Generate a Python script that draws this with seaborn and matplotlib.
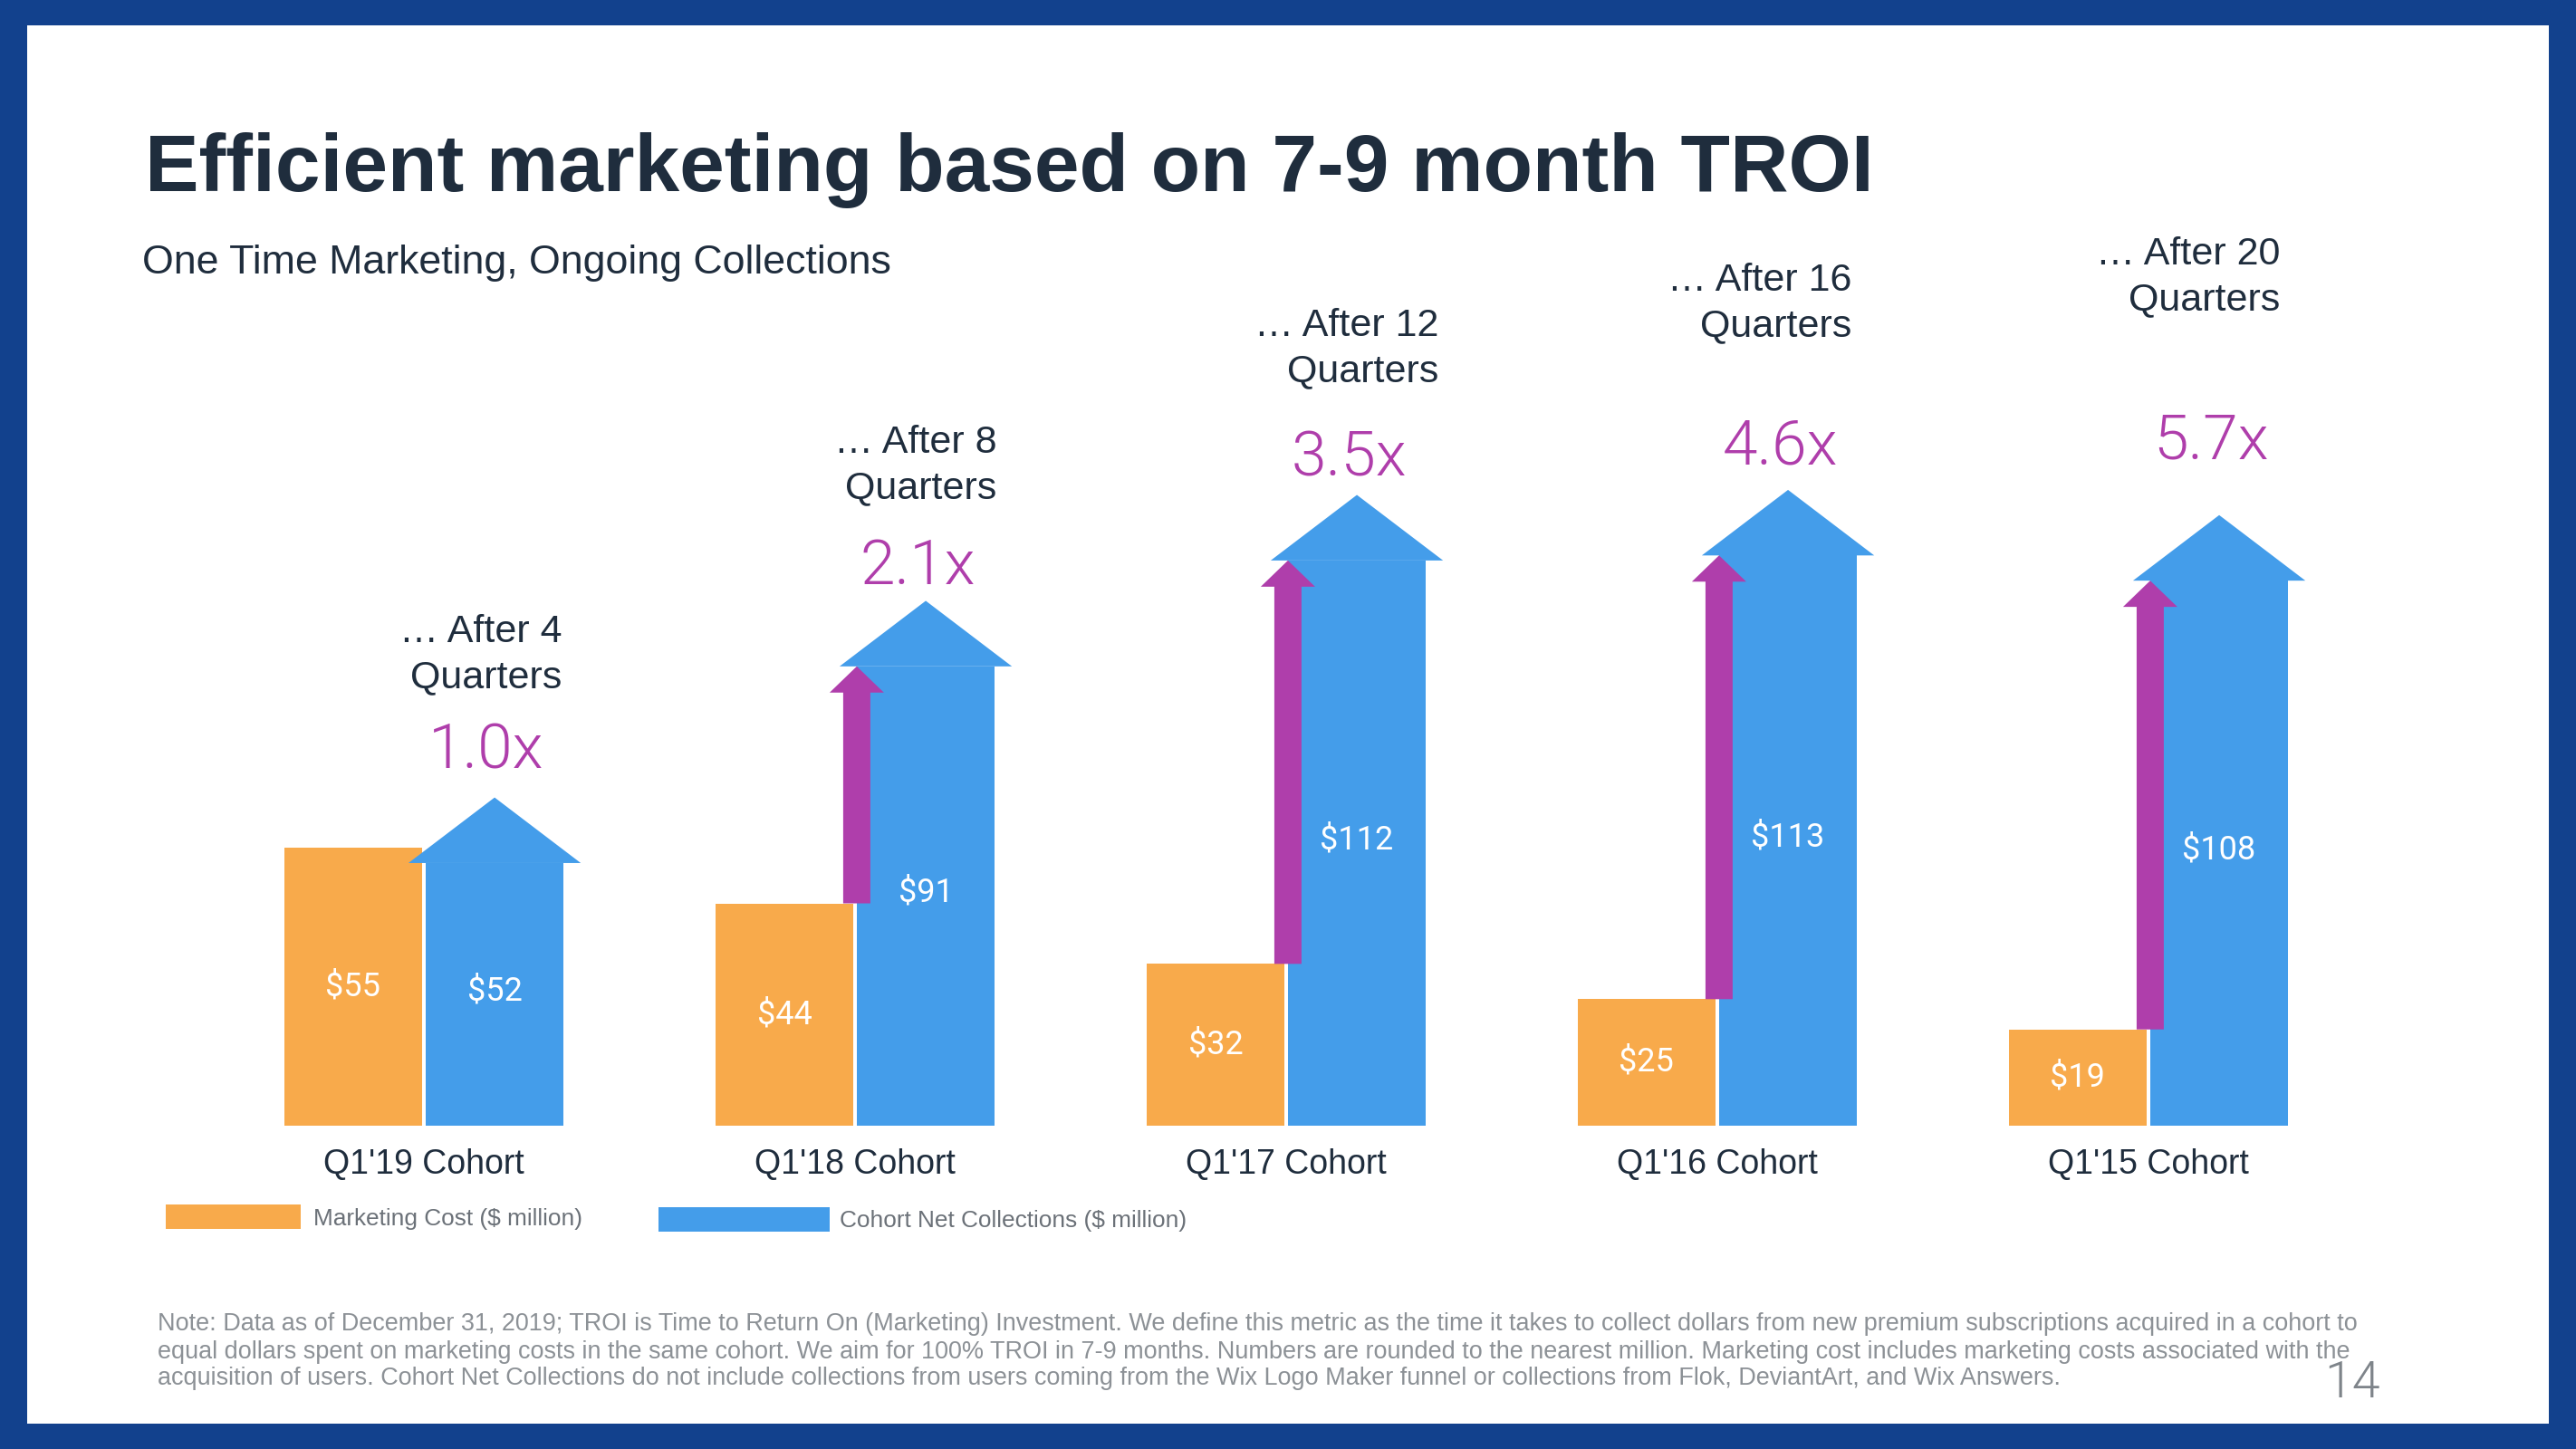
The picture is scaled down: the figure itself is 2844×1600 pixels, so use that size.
import numpy as np
import pandas as pd
import matplotlib
matplotlib.use("Agg")
import matplotlib.pyplot as plt
import seaborn as sns
from matplotlib.patches import Polygon, Rectangle
from matplotlib import font_manager as fm

# ---------------- data ----------------
cohorts = ["Q1'19 Cohort", "Q1'18 Cohort", "Q1'17 Cohort", "Q1'16 Cohort", "Q1'15 Cohort"]
marketing_cost = [55, 44, 32, 25, 19]
net_collections = [52, 91, 112, 113, 108]
multipliers = ["1.0x", "2.1x", "3.5x", "4.6x", "5.7x"]
quarter_labels = ["… After 4\nQuarters", "… After 8\nQuarters", "… After 12\nQuarters",
                  "… After 16\nQuarters", "… After 20\nQuarters"]
series_names = ["Marketing Cost ($ million)", "Cohort Net Collections ($ million)"]
title = "Efficient marketing based on 7-9 month TROI"
subtitle = "One Time Marketing, Ongoing Collections"
footnote_lines = [
    "Note: Data as of December 31, 2019; TROI is Time to Return On (Marketing) Investment. We define this metric as the time it takes to collect dollars from new premium subscriptions acquired in a cohort to",
    "equal dollars spent on marketing costs in the same cohort. We aim for 100% TROI in 7-9 months. Numbers are rounded to the nearest million. Marketing cost includes marketing costs associated with the",
    "acquisition of users. Cohort Net Collections do not include collections from users coming from the Wix Logo Maker funnel or collections from Flok, DeviantArt, and Wix Answers.",
]
page_number = "14"

# ---------------- layout / style ----------------
mult_y = [74.2, 110.7, 132.2, 134.5, 135.5]       # data-unit centres of multiplier labels
quarter_y = [93.3, 130.8, 153.9, 163.0, 168.2]    # data-unit centres of "After N Quarters"
quarter_right = [0.32, 0.328, 0.354, 0.312, 0.305]  # right edge offset from group centre
ORANGE = "#F8AA4B"
BLUE = "#449DEA"
PURPLE = "#AF3EAB"
NAVY = "#1F2D3D"
GREY = "#8C9196"
LEGEND_GREY = "#6B7178"
BORDER = "#12418D"

W, H = 2844, 1600
sns.set_style("white")
plt.rcParams["font.family"] = ["Liberation Sans", "DejaVu Sans"]

names = {f.name for f in fm.fontManager.ttflist}


def has_weight(name, w):
    for f in fm.fontManager.ttflist:
        if f.name == name:
            fw = f.weight
            if fw == w or str(fw) == str(w) or (w == 300 and str(fw).lower() == "light"):
                return True
    return False


LIGHT = "Liberation Sans"
LIGHT_W = "normal"
for cand in ["Roboto", "Lato", "Open Sans", "Inter", "Noto Sans"]:
    if has_weight(cand, 300):
        LIGHT, LIGHT_W = cand, 300
        break
NARROW = "Liberation Sans Narrow" if "Liberation Sans Narrow" in names else "Liberation Sans"
ROBOTO = "Roboto" if "Roboto" in names else "Liberation Sans"

fig = plt.figure(figsize=(W / 100, H / 100), dpi=100)
fig.patch.set_facecolor(BORDER)
fig.add_artist(Rectangle((30 / W, 28 / H), (2814 - 30) / W, (1572 - 28) / H,
                         transform=fig.transFigure, facecolor="white", edgecolor="none", zorder=-5))
renderer = fig.canvas.get_renderer()


def px(x, y):
    return x / W, 1 - y / H


def fit(txt, target):
    bb = txt.get_window_extent(renderer=renderer)
    txt.set_fontsize(txt.get_fontsize() * target / bb.width)


# ---------------- axes ----------------
unit = 476.0
c0 = 468.0
base = 1242.5
ppu = 5.568
xlim = (-0.7, 4.7)
ylim = (0, 200)
ax = fig.add_axes([(c0 + xlim[0] * unit) / W, (H - base) / H,
                   (xlim[1] - xlim[0]) * unit / W, ylim[1] * ppu / H])
ax.set_facecolor("none")

df = pd.DataFrame({
    "cohort": cohorts * 2,
    "value": marketing_cost + net_collections,
    "series": [series_names[0]] * len(cohorts) + [series_names[1]] * len(cohorts),
})
sns.barplot(data=df, x="cohort", y="value", hue="series", hue_order=series_names,
            palette=[ORANGE, BLUE], saturation=1, width=0.656, gap=0.025,
            ax=ax, legend=False, errorbar=None, edgecolor="none", linewidth=0)
ax.set_xlim(*xlim)
ax.set_ylim(*ylim)
for s in ax.spines.values():
    s.set_visible(False)
ax.set_yticks([])
ax.set_xlabel("")
ax.set_ylabel("")
ax.tick_params(axis="x", length=0, pad=18.5, labelsize=27, labelcolor=NAVY)

n = len(cohorts)
bars = ax.patches
orange_bars = bars[:n]
blue_bars = bars[n:2 * n]

head_h = 13.0
head_ext = 0.040
p_shaft = 0.063
p_head = 0.126
p_head_h = 5.2

for i in range(n):
    ob = orange_bars[i]
    bb = blue_bars[i]
    bx, bw, bh = bb.get_x(), bb.get_width(), bb.get_height()
    ox, ow, oh = ob.get_x(), ob.get_width(), ob.get_height()
    # blue arrow head
    ax.add_patch(Polygon([(bx - head_ext, bh), (bx + bw + head_ext, bh), (bx + bw / 2, bh + head_h)],
                         closed=True, facecolor=BLUE, edgecolor="none", zorder=3))
    bb.set_zorder(2)
    ob.set_zorder(1.5)
    boundary = (ox + ow + bx) / 2
    # purple growth arrow
    if bh > oh:
        cx = boundary + 0.004
        pts = [(cx - p_shaft / 2, oh), (cx + p_shaft / 2, oh),
               (cx + p_shaft / 2, bh - p_head_h), (cx + p_head / 2, bh - p_head_h),
               (cx, bh), (cx - p_head / 2, bh - p_head_h), (cx - p_shaft / 2, bh - p_head_h)]
        ax.add_patch(Polygon(pts, closed=True, facecolor=PURPLE, edgecolor="none", zorder=4))
    # value labels
    ax.text(ox + ow / 2, oh / 2, f"${marketing_cost[i]}", ha="center", va="center",
            color="white", fontsize=26, family=ROBOTO, zorder=5)
    ax.text(bx + bw / 2, bh / 2 + 0.6, f"${net_collections[i]}", ha="center", va="center",
            color="white", fontsize=26, family=ROBOTO, zorder=5)
    # multiplier
    ax.text(boundary + 0.145, mult_y[i], multipliers[i], ha="center", va="center",
            color=PURPLE, fontsize=50, family=LIGHT, fontweight=LIGHT_W, zorder=5)
    # after N quarters
    ax.text(boundary + quarter_right[i], quarter_y[i], quarter_labels[i], ha="right", va="center",
            multialignment="right", color=NAVY, fontsize=31, linespacing=1.33, zorder=5)

# ---------------- title & subtitle ----------------
t = fig.text(*px(160, 211), title, fontsize=64, fontweight="bold", color=NAVY,
             ha="left", va="baseline")
fit(t, 1910)
st = fig.text(*px(157, 302), subtitle, fontsize=32, color=NAVY, ha="left", va="baseline")
fit(st, 830)

# ---------------- legend ----------------
fig.add_artist(Rectangle((183 / W, 1 - 1357 / H), (332 - 183) / W, 27 / H,
                         transform=fig.transFigure, facecolor=ORANGE, edgecolor="none"))
fig.add_artist(Rectangle((727 / W, 1 - 1360 / H), (916 - 727) / W, 27 / H,
                         transform=fig.transFigure, facecolor=BLUE, edgecolor="none"))
l1 = fig.text(*px(346, 1346), series_names[0], fontsize=20, color=LEGEND_GREY,
              family=NARROW, ha="left", va="center")
fit(l1, 298)
l2 = fig.text(*px(927, 1348), series_names[1], fontsize=20, color=LEGEND_GREY,
              family=NARROW, ha="left", va="center")
fit(l2, 383)

# ---------------- footnote ----------------
fn_base = [1469, 1500, 1529]
f0 = fig.text(*px(174, fn_base[0]), footnote_lines[0], fontsize=18, color=GREY,
              family=NARROW, ha="left", va="baseline")
fit(f0, 2432)
fsz = f0.get_fontsize()
for k in (1, 2):
    fig.text(*px(174, fn_base[k]), footnote_lines[k], fontsize=fsz, color=GREY,
             family=NARROW, ha="left", va="baseline")
fig.text(*px(2628, 1543), page_number, fontsize=40, color="#7E848A", family=LIGHT,
         fontweight=LIGHT_W, ha="right", va="baseline")

fig.savefig("out.png", dpi=100, facecolor=fig.get_facecolor())
